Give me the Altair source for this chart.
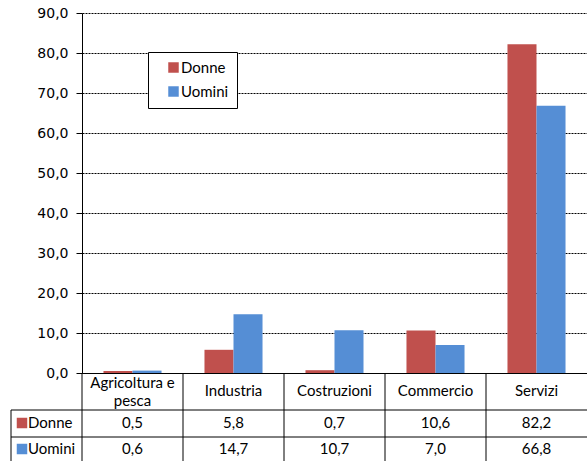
import altair as alt
import pandas as pd

categories = ["Agricoltura e pesca", "Industria", "Costruzioni", "Commercio", "Servizi"]
header_labels = ["Agricoltura e\npesca", "Industria", "Costruzioni", "Commercio", "Servizi"]
series = ["Donne", "Uomini"]
donne = [0.5, 5.8, 0.7, 10.6, 82.2]
uomini = [0.6, 14.7, 10.7, 7.0, 66.8]
colors = ["#C0504D", "#558ED5"]
y_ticks = [0, 10, 20, 30, 40, 50, 60, 70, 80, 90]

rows = []
for c, d, u in zip(categories, donne, uomini):
    rows.append({"cat": c, "series": "Donne", "value": d})
    rows.append({"cat": c, "series": "Uomini", "value": u})
df = pd.DataFrame(rows)
hdr = pd.DataFrame({"cat": categories, "label": header_labels})
ser = pd.DataFrame({"series": series})
one = pd.DataFrame({"k": [0]})

W, H = 505, 360
TABLE_FONT = "Lato"
TFS = 15
fmt = "replace(format(datum.value, '.1f'), '.', ',')"

xs = alt.Scale(domain=categories, paddingInner=0, paddingOuter=0)
color_scale = alt.Scale(domain=series, range=colors)

bars = alt.Chart(df).mark_bar().encode(
    x=alt.X("cat:N", scale=xs, sort=categories,
            axis=alt.Axis(title=None, labels=False, ticks=False, domainColor="black",
                          domainWidth=1, grid=False)),
    xOffset=alt.XOffset("series:N", sort=series,
                        scale=alt.Scale(paddingInner=0, paddingOuter=0.74)),
    y=alt.Y("value:Q", scale=alt.Scale(domain=[0, 90], nice=False),
            axis=alt.Axis(title=None, values=y_ticks, labelExpr=fmt,
                          labelFont="DejaVu Sans", labelFontSize=14, labelColor="black",
                          labelPadding=8, tickSize=6, tickColor="black",
                          domainColor="black", grid=True, gridColor="black",
                          gridDash=[2, 1], gridWidth=1)),
    color=alt.Color("series:N", scale=color_scale, sort=series,
                    legend=alt.Legend(title=None, orient="none", legendX=66, legendY=39,
                                      strokeColor="black", fillColor="white",
                                      padding=8, rowPadding=8, symbolType="square",
                                      symbolSize=110, symbolOffset=10,
                                      symbolStrokeWidth=0,
                                      labelFont=TABLE_FONT, labelFontSize=TFS,
                                      labelColor="black", labelOffset=0,
                                      labelExpr="datum.label + '\u2003\u2003\u2002'")),
)

# table grid
vlines = alt.Chart(hdr).mark_rule(color="black", strokeWidth=1).encode(
    x=alt.X("cat:N", scale=xs, sort=categories, bandPosition=0),
    y=alt.value(H), y2=alt.value(H + 90),
)
left_line = alt.Chart(one).mark_rule(color="black", strokeWidth=1).encode(
    x=alt.value(-71), y=alt.value(397), y2=alt.value(H + 90))
hline1 = alt.Chart(one).mark_rule(color="black", strokeWidth=1).encode(
    x=alt.value(-71), x2=alt.value(W), y=alt.value(397))
hline2 = alt.Chart(one).mark_rule(color="black", strokeWidth=1).encode(
    x=alt.value(-71), x2=alt.value(W), y=alt.value(424))

header_single = alt.Chart(hdr).transform_filter(
    "indexof(datum.label, '\\n') < 0"
).mark_text(font=TABLE_FONT, fontSize=TFS, color="black", baseline="middle").encode(
    x=alt.X("cat:N", scale=xs, sort=categories),
    y=alt.value(378),
    text="label:N",
)
header_multi = alt.Chart(hdr).transform_filter(
    "indexof(datum.label, '\\n') >= 0"
).mark_text(font=TABLE_FONT, fontSize=TFS, color="black", lineBreak="\n",
            lineHeight=18, baseline="middle").encode(
    x=alt.X("cat:N", scale=xs, sort=categories),
    y=alt.value(370),
    text="label:N",
)

layers = [bars, vlines, left_line, hline1, hline2, header_single, header_multi]
row_y = {"Donne": 410, "Uomini": 436}
for s in series:
    vals = alt.Chart(df).transform_filter(alt.datum.series == s).transform_calculate(
        txt=fmt
    ).mark_text(font=TABLE_FONT, fontSize=TFS, color="black", baseline="middle").encode(
        x=alt.X("cat:N", scale=xs, sort=categories),
        y=alt.value(row_y[s]),
        text="txt:N",
    )
    sq = alt.Chart(ser).transform_filter(alt.datum.series == s).mark_point(
        shape="square", filled=True, size=110, opacity=1).encode(
        x=alt.value(-60), y=alt.value(row_y[s]),
        color=alt.Color("series:N", scale=color_scale, legend=None),
    )
    lab = alt.Chart(ser).transform_filter(alt.datum.series == s).mark_text(
        font=TABLE_FONT, fontSize=TFS, color="black", align="left", baseline="middle").encode(
        x=alt.value(-54), y=alt.value(row_y[s]), text="series:N",
    )
    layers += [vals, sq, lab]

chart = alt.layer(*layers).properties(
    width=W, height=H,
    autosize=alt.AutoSizeParams(type="none"),
    padding={"left": 82, "top": 13, "right": 0, "bottom": 88},
    background="white",
).configure_view(stroke=None)

chart.save("out.html", embed_options={"renderer": "svg", "actions": False})
